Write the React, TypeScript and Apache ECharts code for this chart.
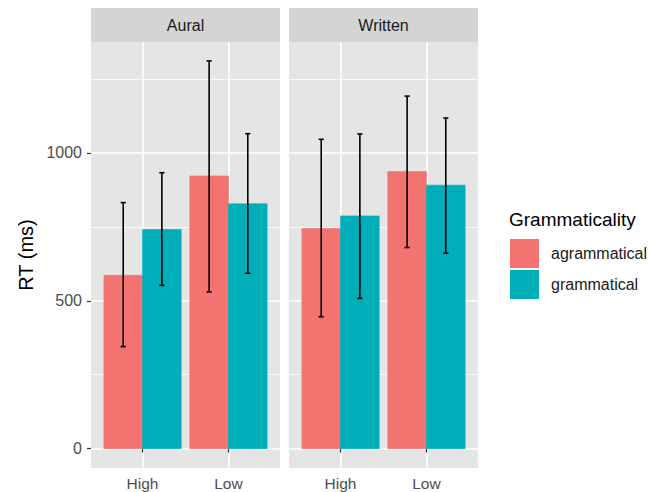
import React, { useEffect, useRef } from "react";
import * as echarts from "echarts";

const facets = ["Aural", "Written"];
const categories = ["High", "Low"];
const groups = ["agrammatical", "grammatical"];
const groupColors = ["#F2736F", "#00AEB9"];

// mean RT per category (High, Low)
const auralAgrammatical = [586, 922];
const auralGrammatical = [741, 828];
const writtenAgrammatical = [744, 937];
const writtenGrammatical = [787, 891];

// error bar lower / upper ends per category (High, Low)
const auralAgrammaticalLo = [345, 530];
const auralAgrammaticalHi = [832, 1311];
const auralGrammaticalLo = [552, 593];
const auralGrammaticalHi = [933, 1065];
const writtenAgrammaticalLo = [446, 680];
const writtenAgrammaticalHi = [1046, 1192];
const writtenGrammaticalLo = [508, 661];
const writtenGrammaticalHi = [1064, 1118];

const yTicks = [0, 500, 1000];
const yMinor = [250, 750, 1250];

const FONT = "'Liberation Sans', Arial, Helvetica, sans-serif";

const means = [
  [auralAgrammatical, auralGrammatical],
  [writtenAgrammatical, writtenGrammatical],
];
const lows = [
  [auralAgrammaticalLo, auralGrammaticalLo],
  [writtenAgrammaticalLo, writtenGrammaticalLo],
];
const highs = [
  [auralAgrammaticalHi, auralGrammaticalHi],
  [writtenAgrammaticalHi, writtenGrammaticalHi],
];

export default function App() {
  const ref = useRef<HTMLDivElement>(null);
  useEffect(() => {
    if (!ref.current) return;
    const chart = echarts.init(ref.current, null, { renderer: "svg" });
    const panelLefts = [91, 289];
    const panelWidth = 189;
    const panelTop = 42;
    const panelHeight = 426;

    const grids = panelLefts.map((l) => ({
      left: l,
      top: panelTop,
      width: panelWidth,
      height: panelHeight,
      show: true,
      backgroundColor: "#E5E5E5",
      borderWidth: 0,
      containLabel: false,
    }));

    const xAxes = panelLefts.map((_, i) => ({
      type: "value",
      gridIndex: i,
      min: 0.4,
      max: 2.6,
      axisLine: { show: false },
      splitLine: { show: false },
      axisTick: {
        show: true,
        customValues: [1, 2],
        length: 4,
        lineStyle: { color: "#333333", width: 1.2 },
      },
      axisLabel: {
        show: true,
        customValues: [1, 2],
        formatter: (v: number) => categories[Math.round(v) - 1] ?? "",
        color: "#4D4D4D",
        fontSize: 15.5,
        fontFamily: FONT,
        margin: 7,
      },
    }));

    const yAxes = panelLefts.map((_, i) => ({
      type: "value",
      gridIndex: i,
      min: -65.5,
      max: 1375,
      axisLine: { show: false },
      splitLine: { show: false },
      axisTick: {
        show: i === 0,
        customValues: yTicks,
        length: 4,
        lineStyle: { color: "#333333", width: 1.2 },
      },
      axisLabel: {
        show: i === 0,
        customValues: yTicks,
        formatter: (v: number) => String(Math.round(v)),
        color: "#4D4D4D",
        fontSize: 16,
        fontFamily: FONT,
        margin: 9,
      },
    }));

    const series: any[] = [];
    facets.forEach((_, f) => {
      series.push({
        type: "line",
        name: "grid" + f,
        xAxisIndex: f,
        yAxisIndex: f,
        data: [],
        z: 0,
        silent: true,
        markLine: {
          silent: true,
          z: 0,
          zlevel: 0,
          symbol: ["none", "none"],
          label: { show: false },
          emphasis: { disabled: true },
          data: [
            ...yMinor.map((v) => ({ yAxis: v, lineStyle: { color: "#FFFFFF", width: 0.8, type: "solid" } })),
            ...yTicks.map((v) => ({ yAxis: v, lineStyle: { color: "#FFFFFF", width: 1.6, type: "solid" } })),
            ...categories.map((_, i) => ({ xAxis: i + 1, lineStyle: { color: "#FFFFFF", width: 1.6, type: "solid" } })),
          ],
        },
      });
      groups.forEach((g, gi) => {
        const off = gi === 0 ? -0.225 : 0.225;
        const color = groupColors[gi];
        series.push({
          type: "custom",
          name: g,
          xAxisIndex: f,
          yAxisIndex: f,
          z: 3,
          itemStyle: { color },
          data: categories.map((_, ci) => [ci + 1, means[f][gi][ci], lows[f][gi][ci], highs[f][gi][ci]]),
          renderItem: (params: any, api: any) => {
            const x = api.value(0) + off;
            const y = api.value(1);
            const lo = api.value(2);
            const hi = api.value(3);
            const tl = api.coord([x - 0.225, y]);
            const br = api.coord([x + 0.225, 0]);
            const top = api.coord([x, hi]);
            const bot = api.coord([x, lo]);
            const capL = api.coord([x - 0.03, hi]);
            const capR = api.coord([x + 0.03, hi]);
            const capLb = api.coord([x - 0.03, lo]);
            const capRb = api.coord([x + 0.03, lo]);
            const es = { stroke: "#000000", lineWidth: 1.6 };
            return {
              type: "group",
              children: [
                {
                  type: "rect",
                  shape: { x: tl[0], y: tl[1], width: br[0] - tl[0], height: br[1] - tl[1] },
                  style: { fill: color, stroke: color, lineWidth: 0.6 },
                },
                { type: "line", z2: 10, shape: { x1: top[0], y1: top[1], x2: bot[0], y2: bot[1] }, style: es },
                { type: "line", z2: 10, shape: { x1: capL[0], y1: capL[1], x2: capR[0], y2: capR[1] }, style: es },
                { type: "line", z2: 10, shape: { x1: capLb[0], y1: capLb[1], x2: capRb[0], y2: capRb[1] }, style: es },
              ],
            };
          },
        });
      });
    });

    const graphics: any[] = [];
    facets.forEach((name, f) => {
      graphics.push({
        type: "rect",
        shape: { x: panelLefts[f], y: 8, width: panelWidth, height: 34 },
        style: { fill: "#D4D4D4" },
        silent: true,
      });
      graphics.push({
        type: "text",
        x: panelLefts[f] + panelWidth / 2,
        y: 25,
        style: {
          text: name,
          fill: "#1A1A1A",
          fontSize: 16,
          fontFamily: FONT,
          align: "center",
          verticalAlign: "middle",
        },
        silent: true,
      });
    });
    graphics.push({
      type: "text",
      x: 26,
      y: 255,
      rotation: Math.PI / 2,
      style: {
        text: "RT (ms)",
        fill: "#000000",
        fontSize: 20,
        fontFamily: FONT,
        align: "center",
        verticalAlign: "middle",
      },
      silent: true,
    });
    graphics.push({
      type: "text",
      x: 509,
      y: 219,
      style: {
        text: "Grammaticality",
        fill: "#000000",
        fontSize: 19,
        fontFamily: FONT,
        align: "left",
        verticalAlign: "middle",
      },
      silent: true,
    });

    chart.setOption({
      animation: false,
      backgroundColor: "#FFFFFF",
      grid: grids,
      xAxis: xAxes,
      yAxis: yAxes,
      legend: {
        show: true,
        orient: "vertical",
        left: 510,
        top: 239,
        icon: "rect",
        itemWidth: 29,
        itemHeight: 29,
        itemGap: 2,
        selectedMode: false,
        padding: 0,
        data: groups,
        textStyle: { fontSize: 16, color: "#1A1A1A", fontFamily: FONT, padding: [0, 0, 0, 7] },
      },
      graphic: graphics,
      series,
    });
    return () => chart.dispose();
  }, []);
  return (
    <div
      ref={ref}
      style={{ position: "fixed", left: 0, top: 0, width: 649, height: 492, background: "#fff" }}
    />
  );
}
